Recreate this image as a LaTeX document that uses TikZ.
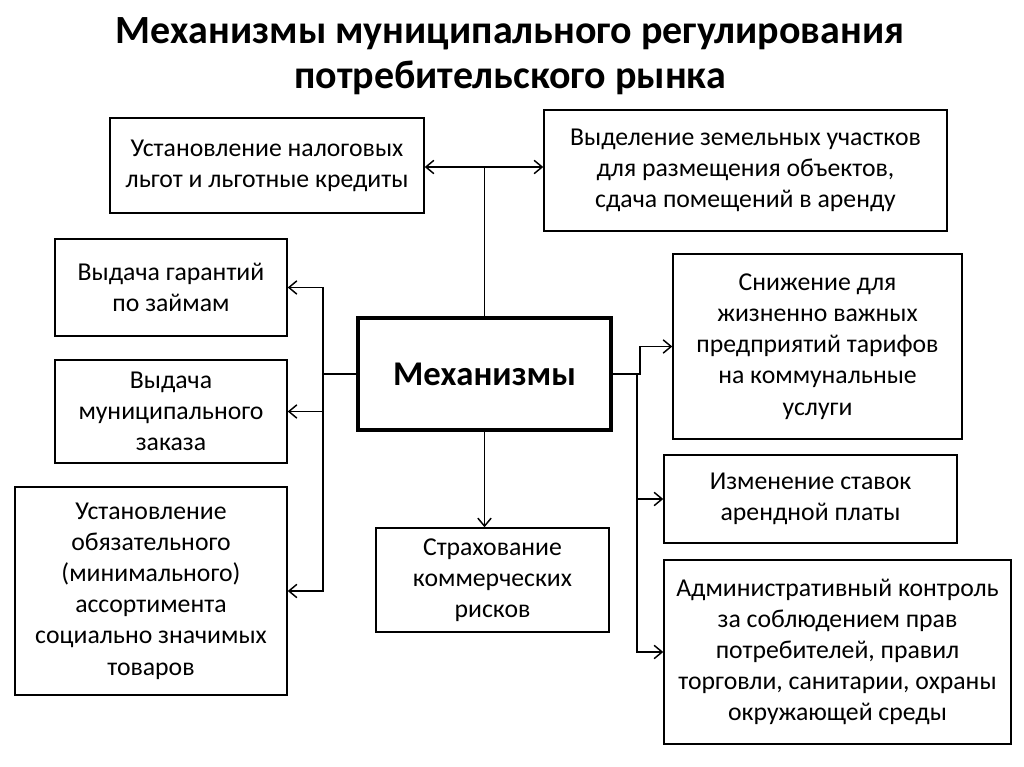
\documentclass[tikz,border=0pt]{standalone}
\usepackage{fontspec}
\setmainfont{Carlito}
\usetikzlibrary{arrows.meta}
\begin{document}
\begin{tikzpicture}[x=0.75pt,y=-0.75pt,
  box/.style={draw, line width=1.1pt, align=center, inner sep=0pt,
    font=\fontsize{19.3}{23.4}\selectfont},
  mainbox/.style={draw, line width=3pt, inner sep=0pt,
    font=\fontsize{26}{30}\selectfont\bfseries},
  conn/.style={line width=1.1pt},
  >={Straight Barb[length=6pt,width=10pt]}]
\useasboundingbox (0,0) rectangle (1024,767);
\node[font=\fontsize{30}{34}\selectfont\bfseries, align=center] (title) at (510,56)
  {Механизмы муниципального регулирования\\потребительского рынка};
\node[box, minimum width=235.5pt, minimum height=71.25pt] (A) at (267,165.5)
  {Установление налоговых\\льгот и льготные кредиты};
\node[box, minimum width=302.25pt, minimum height=90.75pt] (B) at (745.5,170.5)
  {Выделение земельных участков\\для размещения объектов,\\сдача помещений в аренду};
\node[box, minimum width=174pt, minimum height=72.75pt] (C) at (171,287.5)
  {Выдача гарантий\\по займам};
\node[box, minimum width=174pt, minimum height=77.25pt] (D) at (171,411.5)
  {Выдача\\муниципального\\заказа};
\node[box, minimum width=204pt, minimum height=156pt] (E) at (151,591)
  {Установление\\обязательного\\(минимального)\\ассортимента\\социально значимых\\товаров};
\node[mainbox, minimum width=189.75pt, minimum height=84pt] (M) at (484.5,374)
  {Механизмы};
\node[box, minimum width=216.75pt, minimum height=138.75pt] (F) at (817.5,346.5)
  {Снижение для\\жизненно важных\\предприятий тарифов\\на коммунальные\\услуги};
\node[box, minimum width=219.75pt, minimum height=66pt] (G) at (810.5,499)
  {Изменение ставок\\арендной платы};
\node[box, minimum width=260.25pt, minimum height=138pt] (H) at (837.5,652)
  {Административный контроль\\за соблюдением прав\\потребителей, правил\\торговли, санитарии, охраны\\окружающей среды};
\node[box, minimum width=174.75pt, minimum height=78pt] (I) at (492.5,580)
  {Страхование\\коммерческих\\рисков};
\coordinate (T) at (484.5,167);
\coordinate (L) at (323,374);
\coordinate (R) at (640,374);
\coordinate (R2) at (637,374);
\draw[conn] (M.north) -- (T);
\draw[conn,<->] (A.east |- T) -- (B.west |- T);
\draw[conn] (M.west) -- (L);
\draw[conn,->] (L) |- (C.east);
\draw[conn,->] (L) |- (D.east);
\draw[conn,->] (L) |- (E.east);
\draw[conn,->] (M.east) -- (R) |- (F.west);
\draw[conn,->] (R2) |- (G.west);
\draw[conn,->] (R2) |- (H.west);
\draw[conn,->] (M.south) -- (M.south |- I.north);
\end{tikzpicture}
\end{document}
